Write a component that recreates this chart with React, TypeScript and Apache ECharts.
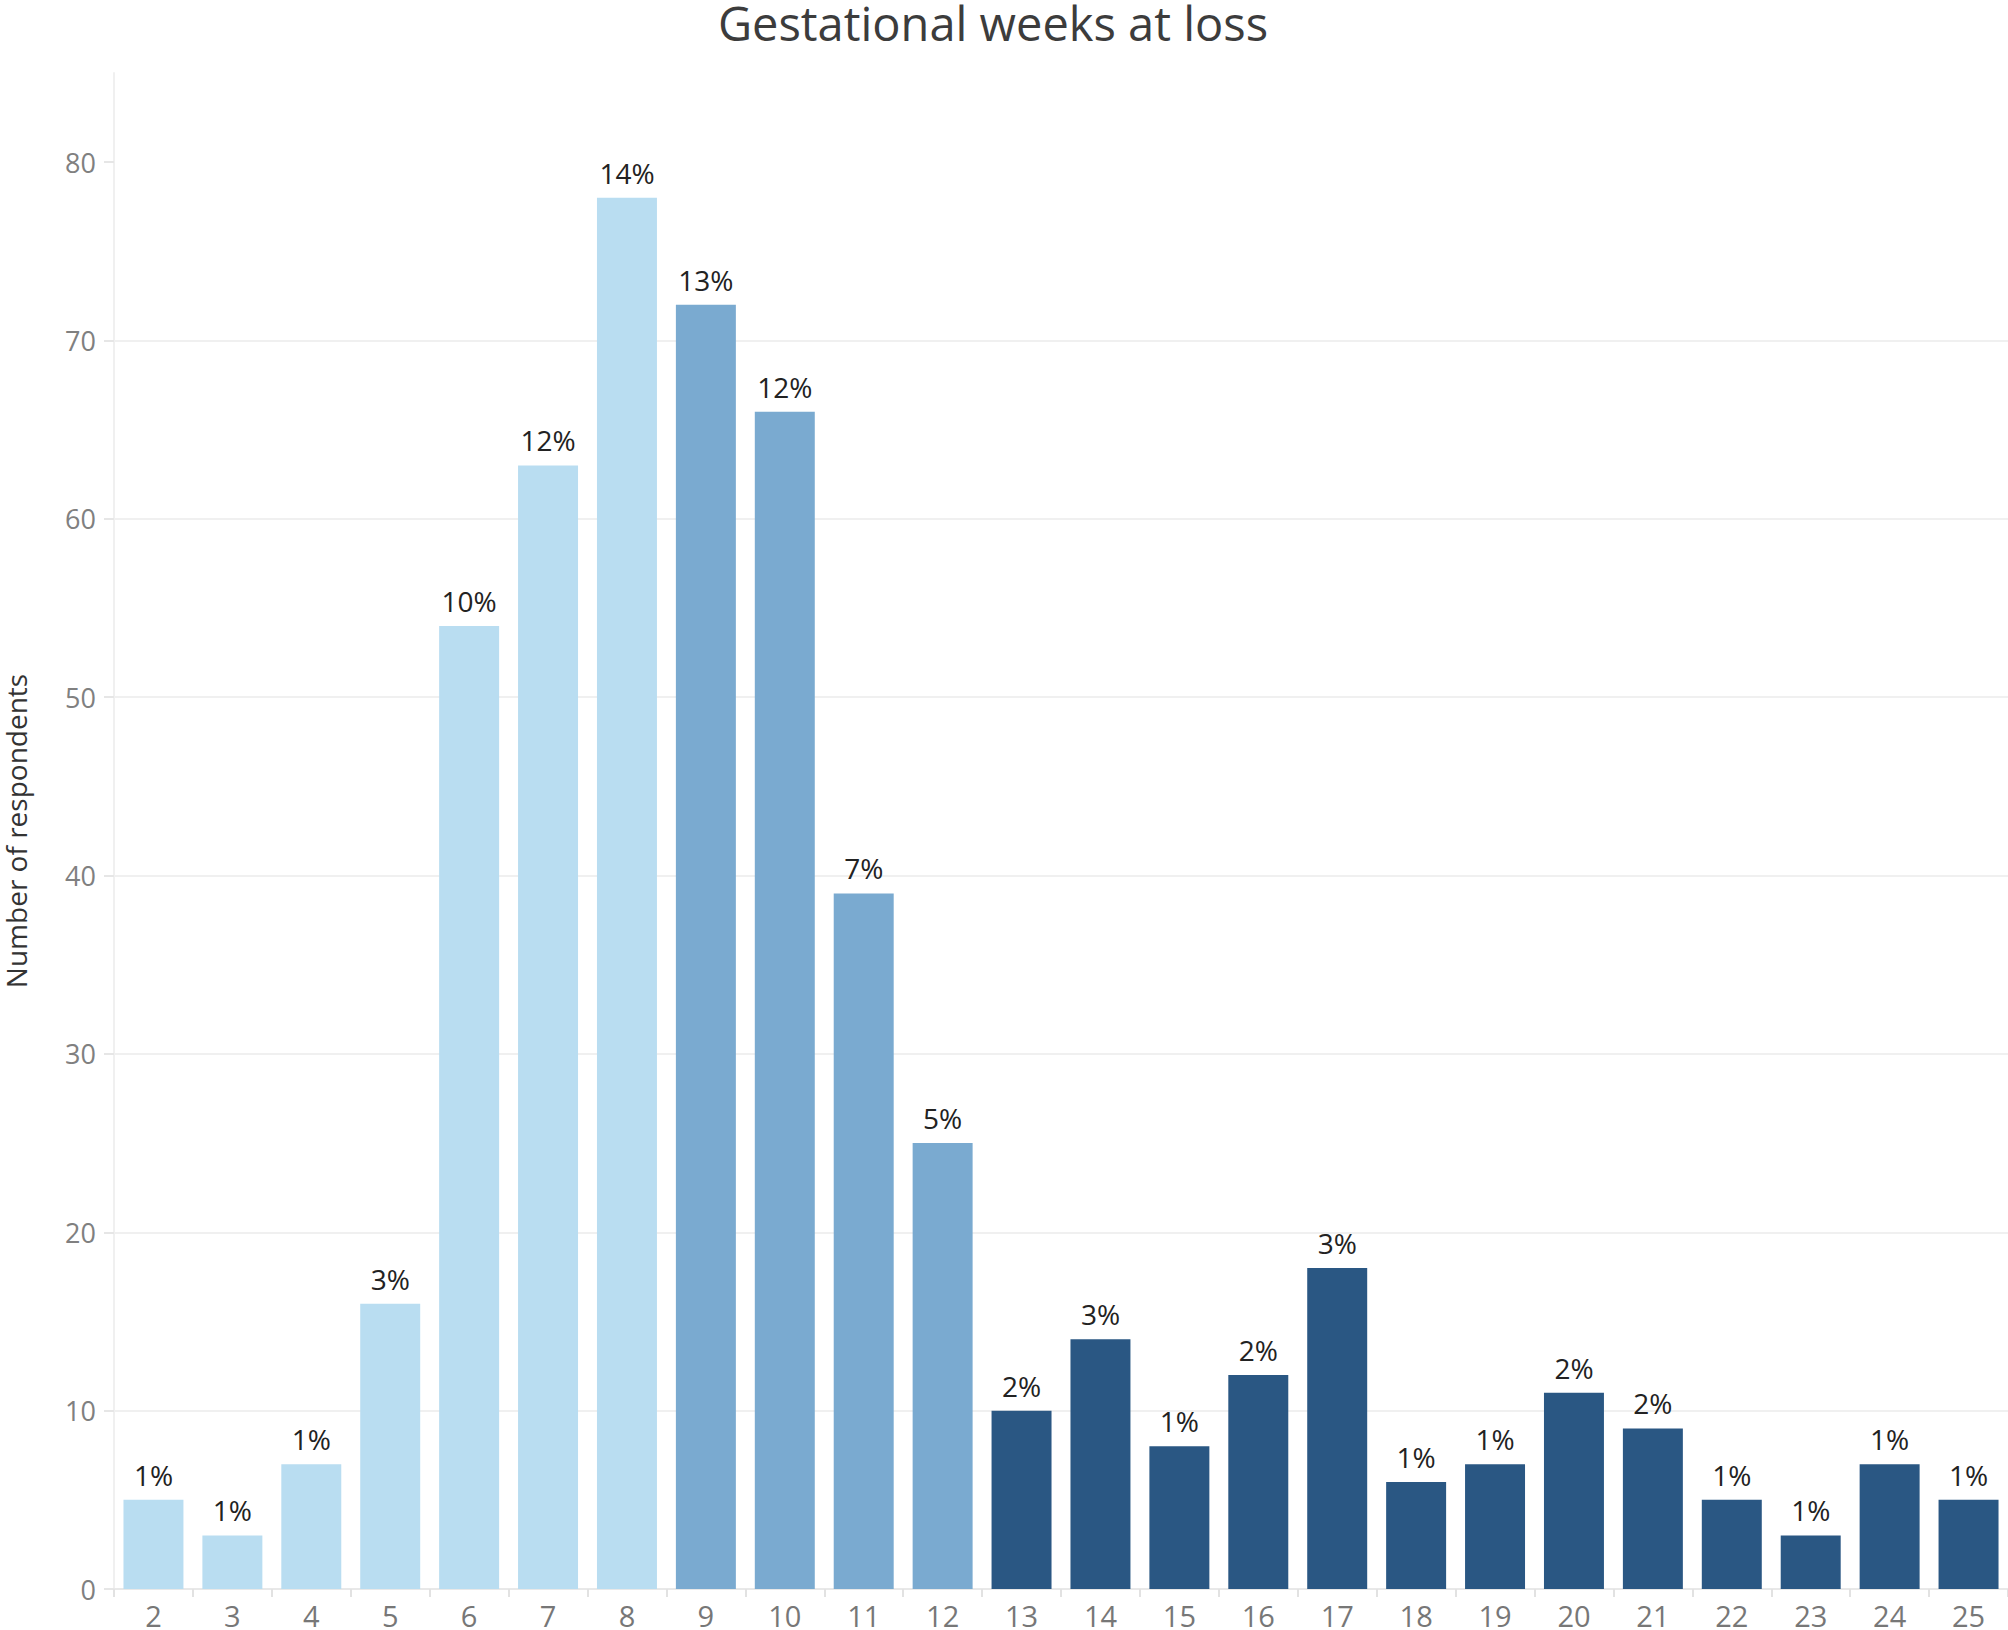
import React, { useEffect, useRef } from "react";
import * as echarts from "echarts";

const weeks = ["2", "3", "4", "5", "6", "7", "8", "9", "10", "11", "12", "13", "14", "15", "16", "17", "18", "19", "20", "21", "22", "23", "24", "25"];
const respondents = [5, 3, 7, 16, 54, 63, 78, 72, 66, 39, 25, 10, 14, 8, 12, 18, 6, 7, 11, 9, 5, 3, 7, 5];
const percentLabels = ["1%", "1%", "1%", "3%", "10%", "12%", "14%", "13%", "12%", "7%", "5%", "2%", "3%", "1%", "2%", "3%", "1%", "1%", "2%", "2%", "1%", "1%", "1%", "1%"];
// 0 = weeks 2-8, 1 = weeks 9-12, 2 = weeks 13-25
const weekGroups = [0, 0, 0, 0, 0, 0, 0, 1, 1, 1, 1, 2, 2, 2, 2, 2, 2, 2, 2, 2, 2, 2, 2, 2];
const groupColors = ["#b9ddf1", "#7aaad0", "#2a5783"];
const yTicks = [0, 10, 20, 30, 40, 50, 60, 70, 80];

const FONT = '"Open Sans", "Noto Sans", sans-serif';

export default function App() {
  const ref = useRef<HTMLDivElement>(null);
  useEffect(() => {
    if (!ref.current) return;
    const chart = echarts.init(ref.current, null, { renderer: "svg" });
    chart.setOption({
      animation: false,
      backgroundColor: "#ffffff",
      textStyle: { fontFamily: FONT },
      title: {
        text: "Gestational weeks at loss",
        left: 993,
        top: -1,
        padding: 0,
        textAlign: "center",
        textStyle: { fontSize: 47, fontWeight: "normal", color: "#3c3c3c", fontFamily: FONT },
      },
      grid: { left: 114, right: 0, top: 73, bottom: 41, containLabel: false, outerBoundsMode: "none" },
      xAxis: {
        type: "category",
        data: weeks,
        axisLine: { show: true, lineStyle: { color: "#e8e8e8", width: 2 } },
        axisTick: { show: true, length: 8, lineStyle: { color: "#e2e2e2", width: 2 } },
        axisLabel: { fontSize: 29, color: "#777777", margin: 12, fontFamily: FONT },
        splitLine: { show: false },
      },
      yAxis: {
        type: "value",
        min: 0,
        max: 85,
        interval: 10,
        name: "Number of respondents",
        nameLocation: "middle",
        nameGap: 84,
        nameTextStyle: { fontSize: 28, color: "#333333", fontFamily: FONT },
        axisLine: { show: true, lineStyle: { color: "#f0f0f0", width: 2 } },
        axisTick: { show: true, length: 10, customValues: yTicks, lineStyle: { color: "#e6e6e6", width: 2 } },
        axisLabel: { fontSize: 27, color: "#808080", margin: 18, customValues: yTicks, fontFamily: FONT },
        splitLine: { show: true, showMinLine: false, showMaxLine: false, lineStyle: { color: "#f0f0f0", width: 2 } },
      },
      series: [
        {
          type: "bar",
          data: respondents.map((v, i) => ({ value: v, itemStyle: { color: groupColors[weekGroups[i]] } })),
          barCategoryGap: "24%",
          label: {
            show: true,
            position: "top",
            distance: 11,
            fontSize: 28,
            color: "#222222",
            fontFamily: FONT,
            formatter: (p: any) => percentLabels[p.dataIndex],
          },
        },
      ],
    });
    return () => chart.dispose();
  }, []);
  return <div ref={ref} style={{ position: "absolute", left: 0, top: 0, width: 2008, height: 1630 }} />;
}
